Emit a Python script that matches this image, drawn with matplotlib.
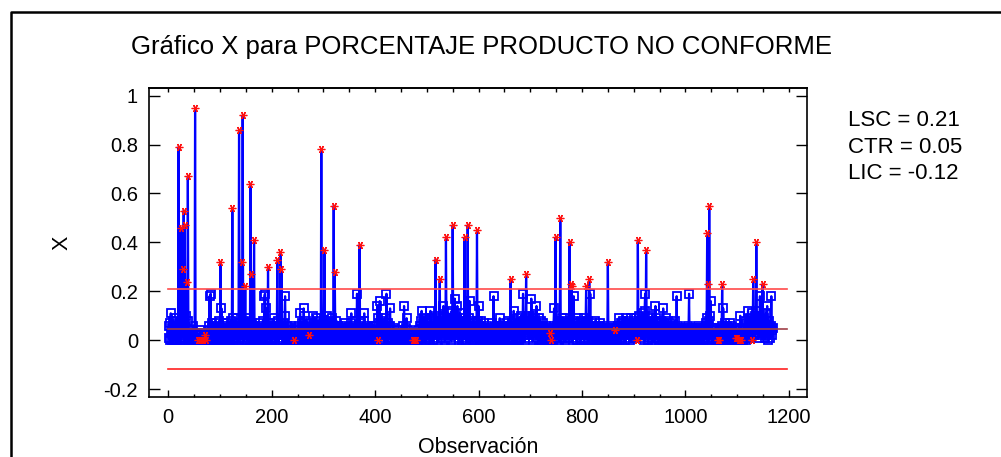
import numpy as np
import matplotlib
matplotlib.use('Agg')
import matplotlib.pyplot as plt
from matplotlib.lines import Line2D
from matplotlib.ticker import MultipleLocator, FuncFormatter

plt.rcParams['font.family'] = ['Liberation Sans', 'DejaVu Sans']

title = 'Gráfico X para PORCENTAJE PRODUCTO NO CONFORME'
x_label = 'Observación'
y_label = 'X'

# control limits
lsc = 0.2105
ctr = 0.0455
lic = -0.1195
limit_end = 1197

# observed values, in hundredths (one row = 50 observations)
pct = [
    1, 6, 0, 7, 11, 3, 0, 5, 2, 8, 0, 4, 1, 6, 0, 9, 2, 0, 5, 79, 3, 0, 6, 1, 46,
    2, 8, 29, 4, 53, 0, 47, 3, 10, 1, 24, 5, 67, 8, 2, 0, 4, 1, 0, 3, 0, 2, 6, 0, 1,
    0, 95, 2, 0, 1, 3, 0, 2, 1, 0, 0, 4, 0, 1, 0, 3, 0, 0, 1, 0, 2, 0, 1, 0, 0,
    3, 1, 6, 2, 18, 4, 19, 0, 5, 7, 1, 3, 0, 6, 2, 4, 0, 7, 1, 3, 0, 5, 2, 8, 1,
    32, 3, 13, 0, 5, 2, 7, 0, 4, 1, 6, 0, 3, 7, 2, 0, 5, 1, 4, 0, 8, 2, 5, 54, 9,
    1, 4, 0, 6, 3, 9, 1, 5, 2, 0, 7, 86, 4, 1, 6, 3, 32, 2, 92, 5, 0, 8, 3, 22, 2,
    6, 0, 4, 9, 1, 5, 3, 0, 64, 2, 27, 7, 1, 4, 0, 41, 3, 6, 0, 2, 5, 1, 0, 4, 7,
    2, 0, 3, 1, 6, 0, 4, 8, 2, 5, 18, 19, 3, 13, 1, 6, 0, 30, 4, 2, 7, 0, 5, 1, 3,
    0, 6, 2, 9, 1, 4, 0, 7, 3, 5, 33, 2, 8, 0, 4, 6, 36, 1, 29, 5, 0, 3, 7, 2, 10,
    18, 4, 0, 6, 1, 3, 0, 5, 2, 0, 4, 1, 6, 0, 2, 0, 3, 0, 1, 5, 0, 2, 4, 0, 1,
    3, 0, 6, 2, 11, 4, 0, 7, 1, 5, 0, 13, 3, 0, 6, 2, 8, 0, 4, 1, 0, 5, 2, 0, 1,
    7, 3, 0, 4, 10, 2, 6, 0, 3, 9, 1, 5, 0, 8, 2, 4, 0, 6, 3, 1, 78, 5, 0, 7, 2,
    4, 37, 1, 6, 0, 8, 10, 3, 0, 5, 2, 7, 0, 4, 1, 9, 3, 0, 6, 55, 2, 28, 5, 0, 8,
    3, 1, 6, 0, 4, 2, 0, 5, 1, 3, 0, 6, 2, 0, 4, 1, 7, 0, 3, 5, 1, 0, 4, 2, 0,
    5, 2, 7, 11, 0, 4, 1, 6, 3, 0, 8, 2, 5, 0, 19, 4, 1, 6, 0, 39, 3, 7, 1, 5, 0,
    4, 2, 8, 11, 3, 0, 5, 1, 4, 0, 6, 2, 0, 3, 1, 5, 0, 2, 4, 0, 1, 6, 2, 0, 3,
    1, 6, 4, 14, 0, 9, 3, 7, 16, 2, 5, 0, 8, 3, 1, 6, 0, 4, 9, 2, 5, 19, 3, 7, 0,
    4, 1, 6, 13, 2, 0, 4, 1, 3, 0, 5, 2, 0, 1, 3, 0, 2, 4, 0, 1, 0, 3, 0, 2, 1,
    0, 3, 1, 6, 2, 14, 4, 0, 5, 2, 9, 1, 4, 0, 3, 0, 2, 0, 1, 0, 0, 2, 0, 1, 0,
    0, 1, 0, 0, 2, 0, 4, 1, 3, 0, 6, 2, 8, 3, 12, 4, 7, 1, 5, 9, 2, 6, 0, 4, 8,
    3, 7, 1, 5, 0, 9, 12, 4, 2, 6, 0, 5, 3, 8, 1, 6, 33, 4, 10, 2, 7, 0, 5, 9, 25,
    3, 6, 1, 8, 4, 10, 14, 2, 7, 0, 5, 42, 3, 8, 1, 6, 11, 2, 9, 4, 0, 7, 12, 3, 47,
    5, 9, 2, 17, 6, 10, 3, 7, 14, 1, 5, 8, 0, 4, 11, 2, 6, 0, 9, 3, 7, 1, 42, 5, 0,
    8, 3, 6, 47, 2, 9, 4, 16, 1, 7, 3, 0, 5, 8, 2, 6, 0, 4, 7, 1, 5, 45, 3, 8, 14,
    2, 6, 0, 4, 8, 1, 5, 0, 3, 7, 2, 0, 5, 1, 4, 0, 6, 2, 0, 3, 5, 1, 0, 4, 2,
    7, 0, 3, 18, 1, 5, 0, 2, 4, 0, 6, 1, 3, 0, 5, 9, 2, 0, 4, 1, 6, 0, 3, 5, 1,
    4, 0, 7, 2, 5, 1, 8, 3, 0, 6, 2, 25, 4, 0, 7, 3, 1, 12, 5, 0, 8, 2, 6, 0, 4,
    9, 1, 5, 0, 7, 3, 10, 1, 6, 4, 19, 2, 8, 0, 5, 9, 27, 3, 7, 1, 6, 10, 2, 8, 4,
    6, 17, 3, 8, 0, 10, 5, 2, 9, 4, 7, 14, 1, 6, 3, 9, 0, 5, 2, 8, 4, 0, 6, 2, 7,
    1, 5, 0, 3, 6, 1, 4, 0, 2, 5, 1, 0, 3, 0, 1, 0, 4, 2, 0, 6, 13, 2, 5, 42, 3,
    6, 1, 8, 3, 5, 0, 7, 50, 2, 6, 4, 9, 1, 5, 9, 3, 7, 0, 6, 2, 8, 4, 1, 7, 3,
    40, 5, 23, 2, 22, 6, 0, 8, 18, 3, 5, 1, 7, 4, 0, 6, 2, 9, 3, 5, 1, 7, 0, 4, 8,
    2, 6, 0, 9, 4, 1, 7, 22, 3, 5, 0, 8, 2, 25, 6, 19, 4, 0, 7, 2, 5, 1, 6, 0, 3,
    8, 2, 5, 0, 4, 1, 6, 3, 0, 7, 2, 4, 0, 5, 1, 3, 6, 0, 4, 2, 0, 5, 1, 3, 32,
    4, 0, 2, 5, 1, 0, 3, 6, 0, 2, 1, 0, 4, 0, 2, 5, 0, 3, 1, 6, 9, 2, 5, 0, 7,
    3, 1, 6, 4, 8, 2, 5, 0, 7, 9, 3, 6, 1, 8, 4, 2, 7, 0, 5, 9, 3, 6, 1, 4, 8,
    3, 7, 1, 9, 5, 2, 0, 41, 6, 2, 10, 4, 8, 1, 6, 3, 11, 5, 0, 7, 12, 19, 4, 37, 8,
    2, 6, 0, 9, 3, 5, 1, 7, 4, 0, 10, 3, 6, 1, 8, 4, 14, 2, 9, 5, 1, 7, 3, 0, 6,
    2, 8, 4, 0, 6, 3, 13, 1, 7, 5, 0, 9, 3, 6, 1, 4, 8, 0, 5, 2, 7, 0, 4, 1, 6,
    3, 0, 5, 2, 8, 1, 4, 18, 3, 6, 0, 4, 1, 5, 2, 0, 3, 1, 4, 0, 2, 5, 1, 0, 3,
    1, 4, 0, 6, 2, 5, 19, 1, 4, 0, 3, 1, 5, 0, 2, 4, 1, 0, 3, 5, 1, 0, 4, 2, 6,
    0, 3, 1, 5, 0, 2, 4, 0, 1, 3, 0, 5, 2, 7, 3, 9, 44, 6, 23, 8, 55, 10, 4, 16, 2,
    5, 0, 3, 1, 4, 0, 2, 5, 1, 0, 3, 0, 1, 0, 0, 2, 0, 1, 4, 6, 23, 3, 13, 5, 1,
    7, 2, 4, 0, 6, 1, 3, 0, 5, 2, 7, 0, 4, 1, 6, 2, 0, 3, 1, 5, 0, 1, 0, 1, 0,
    0, 2, 0, 1, 4, 10, 3, 0, 5, 1, 4, 0, 2, 6, 1, 3, 8, 0, 5, 2, 12, 4, 7, 1, 9,
    3, 6, 0, 11, 5, 25, 8, 2, 10, 4, 7, 40, 12, 3, 9, 5, 1, 8, 18, 4, 6, 2, 10, 23, 5,
    3, 9, 1, 6, 11, 2, 7, 14, 4, 0, 8, 3, 5, 1, 6, 18, 4, 2, 5,
]

# observations flagged by run rules (red, close to zero)
flag_low = [57, 61, 65, 68, 71, 74, 243, 273, 405, 473, 476, 479,
            738, 741, 863, 907, 1062, 1065, 1097, 1099, 1103, 1108, 1128]

x_ticks = [0, 200, 400, 600, 800, 1000, 1200]
y_ticks = [-0.2, 0, 0.2, 0.4, 0.6, 0.8, 1]

fig = plt.figure(figsize=(10.01, 4.57), dpi=100)
ax = fig.add_axes([0.1489, 0.1313, 0.6573, 0.6761])

vals = np.array(pct) / 100.0
obs = np.arange(1, len(vals) + 1)
out = (vals > lsc) | np.isin(obs, flag_low)

ax.plot(obs, vals, color='#0000ff', lw=1.6, zorder=2)
ax.plot(obs[~out], vals[~out], ls='none', marker='s', ms=5.2, mfc='none',
        mec='#0000ff', mew=1.3, zorder=3)
ax.plot(obs[out], vals[out], ls='none', marker=(6, 2, 90), ms=5.5,
        mec='#ff1010', mew=0.9, zorder=4)

# control lines
ax.plot([0, limit_end], [lsc, lsc], color='#ff4a4a', lw=1.2, zorder=5)
ax.plot([0, limit_end], [ctr, ctr], color='#a04048', lw=1.2, zorder=5)
ax.plot([0, limit_end], [lic, lic], color='#ff2020', lw=1.2, zorder=5)

ax.set_xlim(-37, 1235)
ax.set_ylim(-0.232, 1.031)

ax.set_xticks(x_ticks)
ax.xaxis.set_minor_locator(MultipleLocator(50))
ax.set_yticks(y_ticks)
ax.yaxis.set_major_formatter(FuncFormatter(lambda v, p: f'{v:g}'))

ax.tick_params(axis='x', which='major', direction='in', length=5, width=1,
               labelsize=14.5, pad=8, top=False)
ax.tick_params(axis='x', which='minor', direction='in', length=2.5, width=1, top=False)
ax.tick_params(axis='y', which='major', direction='in', length=8, width=1,
               labelsize=14.5, pad=8, right=True)

top = ax.secondary_xaxis('top')
top.set_xticks(np.arange(0, 1201, 50))
top.tick_params(direction='in', length=3, width=1, labeltop=False)
top.spines['top'].set_linewidth(1.2)

for s in ax.spines.values():
    s.set_linewidth(1.2)

ax.set_xlabel(x_label, fontsize=15.5)
ax.xaxis.set_label_coords(0.5, -0.162)
ax.xaxis.label.set_va('center')
ax.set_ylabel(y_label, fontsize=15.5, rotation=90)
ax.yaxis.set_label_coords(-0.132, 0.5)
ax.yaxis.label.set_va('center')

fig.text(0.481, 0.897, title, fontsize=18.5, ha='center', va='center')

fig.text(0.847, 0.737, f'LSC = {lsc:.2f}', fontsize=16, va='center')
fig.text(0.847, 0.678, f'CTR = {ctr:.2f}', fontsize=16, va='center')
fig.text(0.847, 0.621, f'LIC = {lic:.2f}', fontsize=16, va='center')

# outer frame (left and top edges)
fig.add_artist(Line2D([0.0105, 0.0105, 1.0], [0.0, 0.974, 0.974],
                      transform=fig.transFigure, color='black', lw=1.8))

fig.savefig('out.png', dpi=100)
